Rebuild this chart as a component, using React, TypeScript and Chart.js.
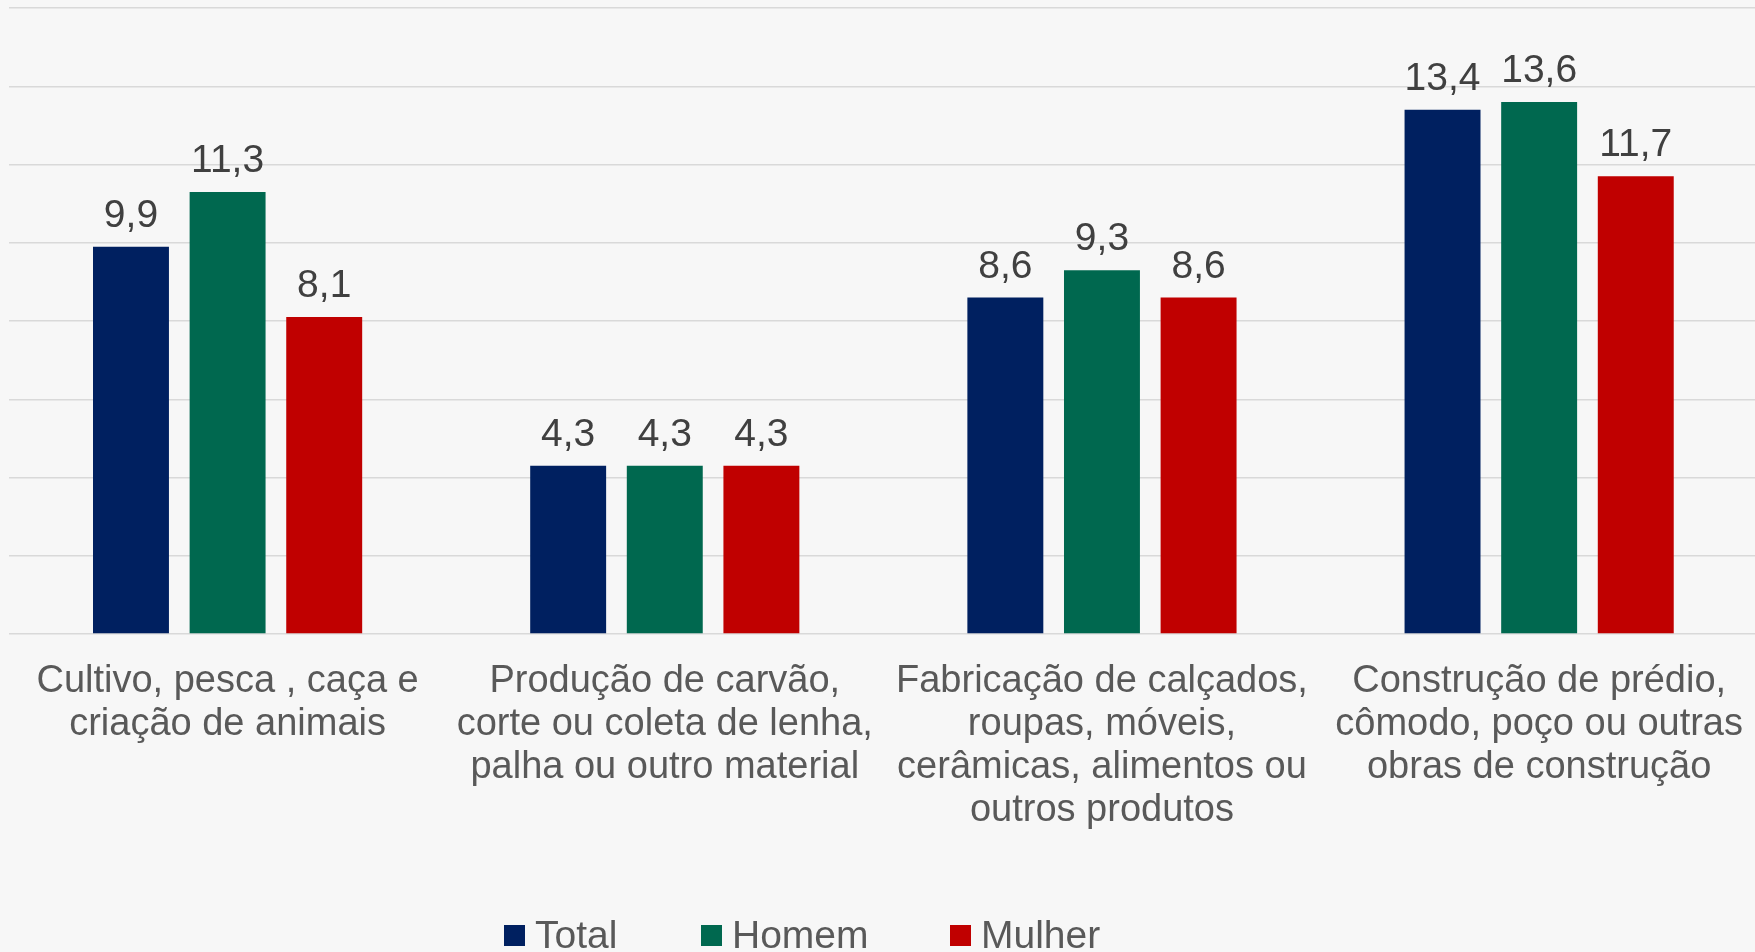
import React, { useEffect, useRef } from "react";
import { Chart, registerables } from "chart.js";

Chart.register(...registerables);

const categories: string[][] = [
  ["Cultivo, pesca , caça e", "criação de animais"],
  ["Produção de carvão,", "corte ou coleta de lenha,", "palha ou outro material"],
  ["Fabricação de calçados,", "roupas, móveis,", "cerâmicas, alimentos ou", "outros produtos"],
  ["Construção de prédio,", "cômodo, poço ou outras", "obras de construção"],
];
const seriesNames = ["Total", "Homem", "Mulher"];
const totalValues = [9.9, 4.3, 8.6, 13.4];
const homemValues = [11.3, 4.3, 9.3, 13.6];
const mulherValues = [8.1, 4.3, 8.6, 11.7];
const seriesColors = ["#002060", "#00684F", "#C00000"];

const FONT = '"Liberation Sans", Arial, sans-serif';

const dataLabelPlugin = {
  id: "dataLabels",
  afterDatasetsDraw(chart: any) {
    const ctx = chart.ctx;
    ctx.save();
    ctx.font = `39px ${FONT}`;
    ctx.fillStyle = "#404040";
    ctx.textAlign = "center";
    ctx.textBaseline = "alphabetic";
    chart.data.datasets.forEach((ds: any, i: number) => {
      const meta = chart.getDatasetMeta(i);
      meta.data.forEach((bar: any, j: number) => {
        const v = ds.data[j] as number;
        ctx.fillText(v.toFixed(1).replace(".", ","), bar.x, bar.y - 20);
      });
    });
    ctx.restore();
  },
};

const legendPlugin = {
  id: "customLegend",
  afterDraw(chart: any) {
    const ctx = chart.ctx;
    const itemX = [504, 701, 950];
    ctx.save();
    ctx.font = `39px ${FONT}`;
    ctx.textAlign = "left";
    ctx.textBaseline = "alphabetic";
    chart.data.datasets.forEach((ds: any, i: number) => {
      const x = itemX[i];
      ctx.fillStyle = ds.backgroundColor;
      ctx.fillRect(x, 925, 21, 21);
      ctx.fillStyle = "#595959";
      ctx.fillText(ds.label, x + 31, 948);
    });
    ctx.restore();
  },
};

export default function App() {
  const canvasRef = useRef<HTMLCanvasElement | null>(null);

  useEffect(() => {
    document.body.style.margin = "0";
    document.body.style.overflow = "hidden";
    document.body.style.background = "#f7f7f7";
    const canvas = canvasRef.current;
    if (!canvas) return;
    const values = [totalValues, homemValues, mulherValues];
    const chart = new Chart(canvas, {
      type: "bar",
      data: {
        labels: categories,
        datasets: seriesNames.map((name, i) => ({
          label: name,
          data: values[i],
          backgroundColor: seriesColors[i],
          borderWidth: 0,
          categoryPercentage: 0.663,
          barPercentage: 0.786,
        })),
      },
      options: {
        animation: false,
        responsive: true,
        maintainAspectRatio: false,
        layout: { padding: { left: 9, top: 8, right: 0, bottom: 0 } },
        plugins: {
          legend: { display: false },
          tooltip: { enabled: false },
        },
        scales: {
          x: {
            grid: { display: false, drawTicks: false },
            border: { display: false },
            ticks: {
              color: "#595959",
              font: { family: FONT, size: 38, lineHeight: "43px" } as any,
              padding: 26,
              maxRotation: 0,
              autoSkip: false,
            },
            afterFit: (scale: any) => {
              scale.height = 318;
            },
          },
          y: {
            min: 0,
            max: 16,
            grid: { color: "#d9d9d9", lineWidth: 1.5, drawTicks: false },
            border: { display: false },
            ticks: { display: false, stepSize: 2 },
          },
        },
      },
      plugins: [dataLabelPlugin, legendPlugin],
    });
    return () => chart.destroy();
  }, []);

  return (
    <div
      style={{
        position: "absolute",
        left: 0,
        top: 0,
        width: 1755,
        height: 952,
        overflow: "hidden",
        background: "#f7f7f7",
      }}
    >
      <div style={{ position: "relative", width: 1769, height: 952 }}>
        <canvas ref={canvasRef} />
      </div>
    </div>
  );
}
